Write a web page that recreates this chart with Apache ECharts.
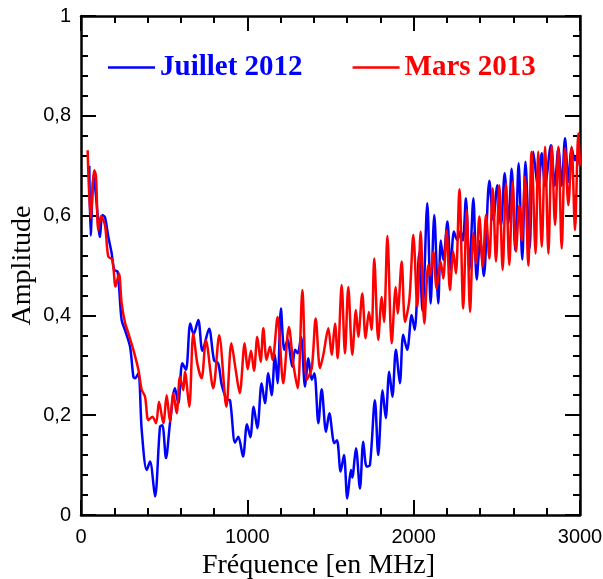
<!DOCTYPE html>
<html><head><meta charset="utf-8">
<script src="https://cdn.jsdelivr.net/npm/echarts@6/dist/echarts.min.js"></script>
<style>html,body{margin:0;padding:0;background:#fff}#c{width:603px;height:579px}</style>
</head><body><div id="c"></div>
<script>
const seriesNames = ['Juillet 2012', 'Mars 2013'];
const xTicks = [0, 1000, 2000, 3000];
const yTicks = ['0', '0,2', '0,4', '0,6', '0,8', '1'];

const julX = [50,58,76,90,114,128,144,164,184,200,220,244,265,295,315,325,345,365,395,415,445,475,489,511,535,565,585,609,631,657,677,705,730,770,800,825,846,876,896,926,946,974,998,1018,1038,1060,1086,1106,1126,1146,1166,1182,1202,1222,1242,1270,1287,1303,1323,1347,1367,1387,1403,1427,1447,1473,1493,1523,1539,1561,1581,1601,1623,1631,1653,1677,1697,1717,1737,1767,1787,1813,1832,1853,1872,1893,1917,1937,1961,1988,2006,2034,2053,2082,2102,2124,2148,2163,2178,2203,2222,2242,2262,2282,2296,2314,2335,2359,2379,2400,2422,2455,2479,2503,2525,2547,2569,2589,2611,2631,2653,2672,2697,2719,2749,2770,2790,2825,2848,2870,2890,2910,2930,2950,2970,2985,3000];
const julY = [0.70,0.56,0.68,0.64,0.557,0.601,0.597,0.558,0.525,0.491,0.488,0.391,0.37,0.337,0.277,0.274,0.284,0.170,0.090,0.107,0.037,0.177,0.180,0.114,0.184,0.254,0.224,0.304,0.291,0.384,0.362,0.391,0.329,0.373,0.31,0.304,0.261,0.232,0.230,0.145,0.157,0.117,0.182,0.156,0.217,0.174,0.264,0.224,0.284,0.240,0.321,0.264,0.414,0.331,0.351,0.297,0.331,0.324,0.357,0.257,0.314,0.271,0.284,0.184,0.252,0.167,0.204,0.144,0.150,0.087,0.120,0.033,0.090,0.075,0.134,0.053,0.147,0.097,0.100,0.230,0.120,0.250,0.194,0.287,0.237,0.331,0.264,0.361,0.331,0.401,0.371,0.526,0.409,0.625,0.424,0.601,0.424,0.55,0.511,0.588,0.491,0.568,0.551,0.568,0.55,0.635,0.491,0.635,0.472,0.55,0.479,0.670,0.591,0.661,0.58,0.685,0.585,0.694,0.53,0.705,0.512,0.708,0.534,0.728,0.655,0.725,0.66,0.741,0.66,0.735,0.66,0.755,0.668,0.735,0.711,0.72,0.70];

const marX = [40,58,80,90,104,120,144,164,188,208,228,244,265,285,315,345,365,385,405,429,451,469,495,515,535,555,575,595,615,625,651,675,699,725,751,795,831,874,904,930,954,984,1002,1022,1040,1060,1080,1096,1116,1136,1152,1182,1216,1250,1276,1303,1331,1357,1387,1411,1437,1457,1487,1507,1527,1543,1567,1587,1607,1631,1653,1667,1691,1711,1731,1747,1763,1787,1808,1822,1842,1868,1892,1904,1928,1948,1974,1998,2022,2042,2064,2088,2100,2118,2138,2162,2178,2198,2218,2238,2254,2275,2298,2319,2339,2359,2375,2395,2415,2435,2455,2475,2495,2515,2535,2555,2575,2595,2615,2635,2650,2669,2689,2709,2733,2749,2770,2790,2810,2830,2850,2870,2890,2910,2930,2950,2970,2990,3000];
const marY = [0.731,0.595,0.691,0.68,0.571,0.599,0.581,0.518,0.512,0.458,0.484,0.425,0.385,0.364,0.331,0.291,0.251,0.237,0.190,0.197,0.184,0.227,0.184,0.240,0.187,0.244,0.204,0.277,0.25,0.287,0.217,0.364,0.304,0.274,0.350,0.254,0.360,0.217,0.344,0.291,0.244,0.344,0.292,0.329,0.289,0.357,0.307,0.374,0.311,0.337,0.311,0.397,0.264,0.377,0.304,0.254,0.451,0.271,0.294,0.394,0.294,0.321,0.374,0.321,0.384,0.314,0.461,0.324,0.457,0.321,0.411,0.357,0.444,0.354,0.407,0.371,0.514,0.351,0.437,0.387,0.559,0.344,0.457,0.404,0.508,0.387,0.431,0.561,0.417,0.568,0.384,0.501,0.48,0.528,0.454,0.508,0.474,0.571,0.451,0.528,0.484,0.653,0.414,0.611,0.407,0.565,0.504,0.598,0.498,0.601,0.514,0.655,0.508,0.661,0.491,0.665,0.501,0.668,0.528,0.62,0.55,0.678,0.50,0.728,0.524,0.728,0.538,0.738,0.524,0.741,0.581,0.738,0.534,0.735,0.621,0.738,0.571,0.765,0.70];

const pair = (xs, ys) => xs.map((x, i) => [x, ys[i]]);
const ylabel = v => { const i = Math.round(v * 5); return Math.abs(v*5 - i) < 1e-6 && yTicks[i] !== undefined ? yTicks[i] : ''; };
const xlabel = v => String(v);

const chart = echarts.init(document.getElementById('c'), null, {renderer: 'canvas'});
const mkCommon = () => ({
  axisLine: {show: true, onZero: false, lineStyle: {color: '#000', width: 2.5}},
  axisTick: {show: true, inside: true, length: 15, lineStyle: {color: '#000', width: 2}},
  minorTick: {show: true, splitNumber: 5, length: 7, lineStyle: {color: '#000', width: 2}},
  splitLine: {show: false}
});
chart.setOption({
  animation: false,
  backgroundColor: '#fff',
  grid: {left: 81, right: 23, top: 16, bottom: 64, containLabel: false, outerBoundsMode: 'none'},
  legend: {
    left: 108, top: 53, padding: 0, itemGap: 50, itemWidth: 47, itemHeight: 2.5, icon: 'rect',
    textStyle: {fontFamily: 'Liberation Serif', fontWeight: 'bold', fontSize: 29},
    data: [
      {name: seriesNames[0], textStyle: {color: '#0000ff'}},
      {name: seriesNames[1], textStyle: {color: '#ff0000'}}
    ]
  },
  xAxis: [
    Object.assign({type: 'value', min: xTicks[0], max: xTicks[xTicks.length-1], interval: 1000, position: 'bottom',
      name: 'Fréquence [en MHz]', nameLocation: 'middle', nameGap: 32,
      nameTextStyle: {fontFamily: 'Liberation Serif', fontSize: 28, color: '#000', padding: [0, 24, 0, 0]},
      axisLabel: {fontFamily: 'Liberation Sans', fontSize: 20, color: '#000', margin: 12, formatter: xlabel}}, mkCommon()),
    Object.assign({type: 'value', min: 0, max: 3000, interval: 1000, position: 'top', axisLabel: {show: false}}, mkCommon())
  ],
  yAxis: [
    Object.assign({type: 'value', min: 0, max: 1, interval: 0.2, position: 'left',
      name: 'Amplitude', nameLocation: 'middle', nameGap: 44, nameMoveOverlap: false,
      nameTextStyle: {fontFamily: 'Liberation Serif', fontSize: 28, color: '#000'},
      axisLabel: {fontFamily: 'Liberation Sans', fontSize: 20, color: '#000', margin: 10, formatter: ylabel}}, mkCommon()),
    Object.assign({type: 'value', min: 0, max: 1, interval: 0.2, position: 'right', axisLabel: {show: false}}, mkCommon())
  ],
  series: [
    {name: seriesNames[0], type: 'line', data: pair(julX, julY), showSymbol: false, smooth: 0.3,
      color: '#0000ff', lineStyle: {color: '#0000ff', width: 2.5}, xAxisIndex: 0, yAxisIndex: 0},
    {name: seriesNames[1], type: 'line', data: pair(marX, marY), showSymbol: false, smooth: 0.3,
      color: '#ff0000', lineStyle: {color: '#ff0000', width: 2.5}, xAxisIndex: 0, yAxisIndex: 0}
  ]
});
</script></body></html>
